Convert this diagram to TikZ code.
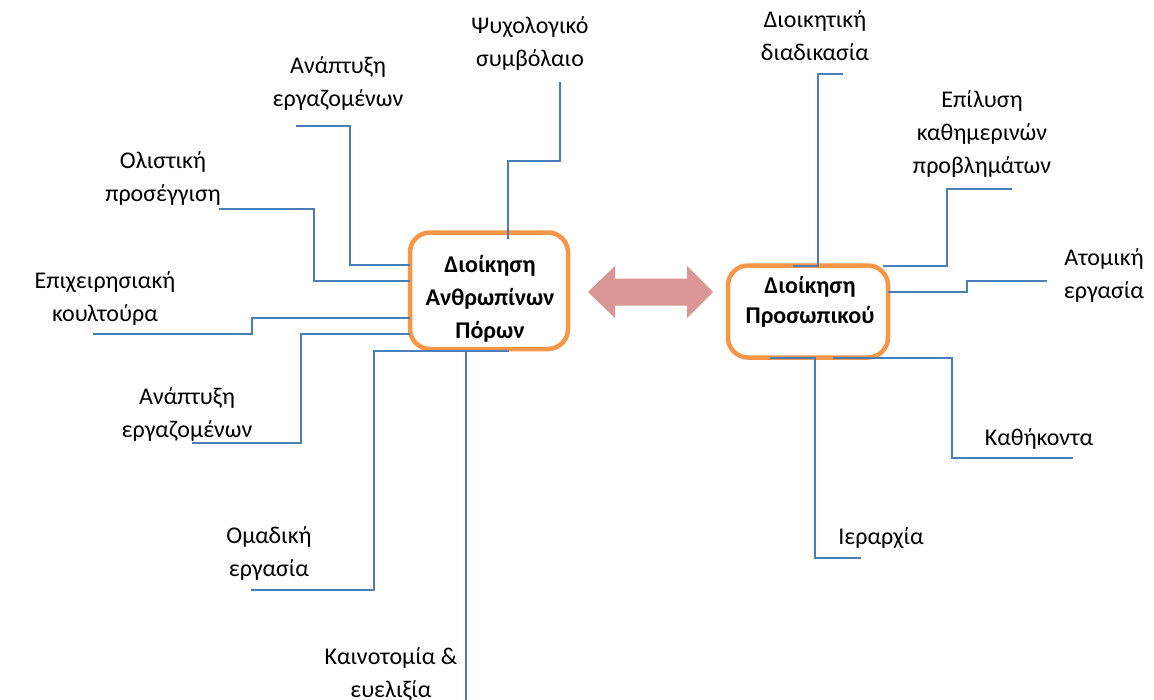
\documentclass[tikz,border=0pt]{standalone}
\usepackage{fontspec}
\setmainfont{Carlito}
\definecolor{linkblue}{RGB}{74,126,187}
\definecolor{huborange}{RGB}{247,150,70}
\definecolor{arrowpink}{RGB}{217,150,148}
\begin{document}
\begin{tikzpicture}[x=1pt,y=-1pt,
  conn/.style={draw=linkblue, line width=1.8pt},
  lbl/.style={font=\fontsize{24}{33}\selectfont, align=center, inner sep=0pt},
  hub/.style={draw=huborange, line width=4.5pt, rounded corners=20pt, fill=white, inner sep=0pt},
  hubtext/.style={font=\bfseries\fontsize{24}{33}\selectfont, align=center, inner sep=0pt}]
\useasboundingbox (0,0) rectangle (1154,699);

% the two central boxes
\node[hub, minimum width=158pt, minimum height=116.5pt] (hrm) at (489,290.75) {};
\node[hub, minimum width=160pt, minimum height=92pt] (pm) at (808,311.5) {};
\begin{scope}
  \clip (400,230) rectangle (580,342);
  \node[hubtext] (hrmtext) at (490,298.5) {Διοίκηση\\Ανθρωπίνων\\Πόρων};
\end{scope}
\node[hubtext, font=\bfseries\fontsize{24}{30}\selectfont] (pmtext) at (810,302) {Διοίκηση\\Προσωπικού};

% double arrow between the two boxes
\fill[arrowpink] (588,292) -- (615,266) -- (615,278.5) -- (687,278.5) -- (687,266)
  -- (713,292) -- (687,318) -- (687,305.5) -- (615,305.5) -- (615,318) -- cycle;

% labels
\node[lbl] (devtop) at (338,83.5) {Ανάπτυξη\\εργαζομένων};
\node[lbl] (psy) at (530,43.5) {Ψυχολογικό\\συμβόλαιο};
\node[lbl] (hol) at (163,178.5) {Ολιστική\\προσέγγιση};
\node[lbl] (cult) at (105,298.5) {Επιχειρησιακή\\κουλτούρα};
\node[lbl] (devbot) at (187,414) {Ανάπτυξη\\εργαζομένων};
\node[lbl] (team) at (269,553.5) {Ομαδική\\εργασία};
\node[lbl] (innov) at (391,674) {Καινοτομία \&\\ευελιξία};
\node[lbl] (admin) at (815,35.5) {Διοικητική\\διαδικασία};
\node[lbl] (daily) at (982,134) {Επίλυση\\καθημερινών\\προβλημάτων};
\node[lbl] (indiv) at (1104,275) {Ατομική\\εργασία};
\node[lbl] (duty) at (1039,439) {Καθήκοντα};
\node[lbl] (hier) at (881,538) {Ιεραρχία};

% free ends of the connectors, next to their labels
\coordinate (devtop-e) at (296,126);
\coordinate (psy-e) at (560,82);
\coordinate (hol-e) at (219,209);
\coordinate (cult-e) at (93,334);
\coordinate (devbot-e) at (192,443);
\coordinate (team-e) at (251,590);
\coordinate (innov-e) at (466,710);
\coordinate (admin-e) at (843,74);
\coordinate (daily-e) at (1012,189);
\coordinate (indiv-e) at (1047,281);
\coordinate (duty-e) at (1073,458);
\coordinate (hier-e) at (861,558);

% ends on the boxes
\coordinate (hrm-a) at (410,265);
\coordinate (hrm-b) at (410,281);
\coordinate (hrm-c) at (508,239);
\coordinate (hrm-d) at (410,318);
\coordinate (hrm-e) at (410,334);
\coordinate (hrm-f) at (509,351);
\coordinate (hrm-g) at (466,351);
\coordinate (pm-a) at (793,266);
\coordinate (pm-b) at (883,266);
\coordinate (pm-c) at (888,292);
\coordinate (pm-d) at (770,358);
\coordinate (pm-e) at (833,358);

% connectors
\draw[conn] (devtop-e) -- (350,126) -- (350,265) -- (hrm-a);
\draw[conn] (hol-e) -- (314,209) -- (314,281) -- (hrm-b);
\draw[conn] (psy-e) -- (560,161) -- (508,161) -- (hrm-c);
\draw[conn] (cult-e) -- (252,334) -- (252,318) -- (hrm-d);
\draw[conn] (devbot-e) -- (301,443) -- (301,334) -- (hrm-e);
\draw[conn] (team-e) -- (374,590) -- (374,351) -- (hrm-f);
\draw[conn] (hrm-g) -- (innov-e);
\draw[conn] (admin-e) -- (818,74) -- (818,266) -- (pm-a);
\draw[conn] (daily-e) -- (947,189) -- (947,266) -- (pm-b);
\draw[conn] (indiv-e) -- (967,281) -- (967,292) -- (pm-c);
\draw[conn] (pm-d) -- (815,358) -- (815,558) -- (hier-e);
\draw[conn] (pm-e) -- (952,358) -- (952,458) -- (duty-e);
\end{tikzpicture}
\end{document}
